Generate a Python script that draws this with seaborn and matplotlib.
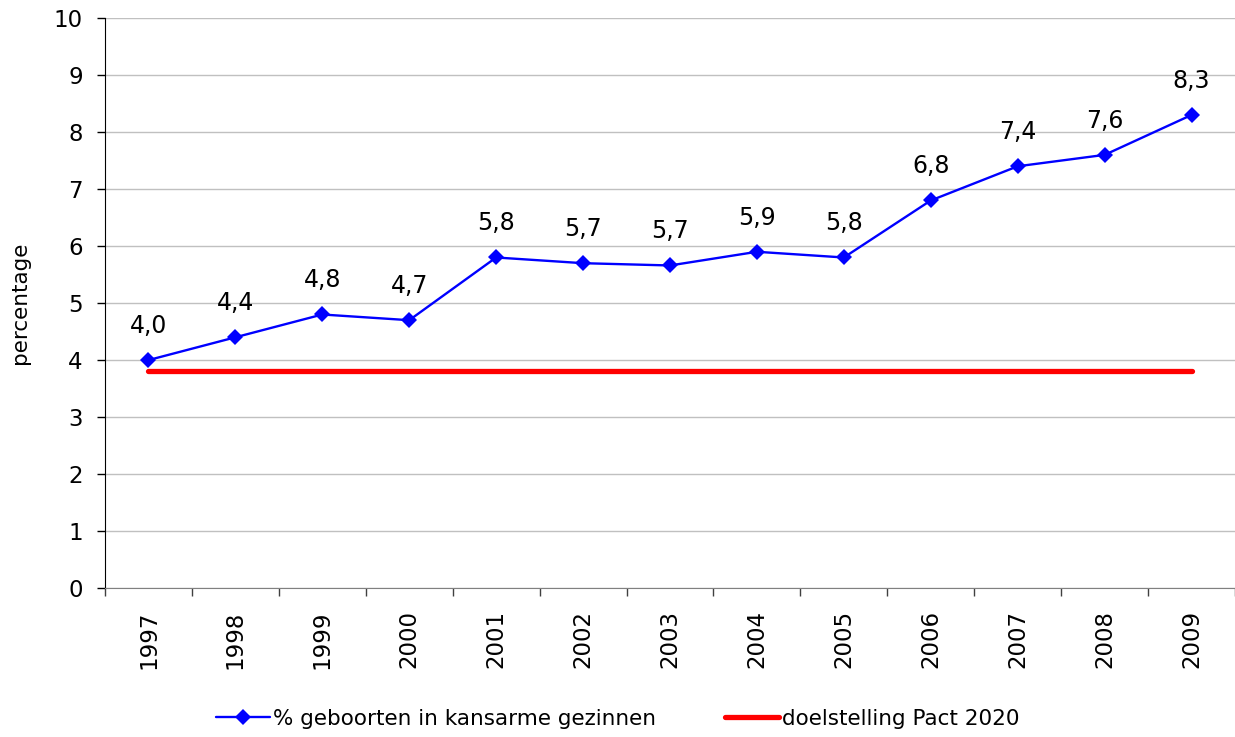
import matplotlib
matplotlib.use("Agg")
import matplotlib.pyplot as plt
import seaborn as sns
import pandas as pd
from matplotlib.ticker import FixedLocator

years = ['1997', '1998', '1999', '2000', '2001', '2002', '2003',
         '2004', '2005', '2006', '2007', '2008', '2009']
percent = [4.0, 4.4, 4.8, 4.7, 5.8, 5.7, 5.66, 5.9, 5.8, 6.8, 7.4, 7.6, 8.3]
point_labels = ['4,0', '4,4', '4,8', '4,7', '5,8', '5,7', '5,7',
                '5,9', '5,8', '6,8', '7,4', '7,6', '8,3']
target_value = 3.8
target = [target_value] * len(years)

df = pd.DataFrame({'year': years, 'percent': percent, 'target': target})

sns.set_style("white")
plt.rcParams['font.family'] = ['DejaVu Sans']
plt.rcParams['text.color'] = 'black'
plt.rcParams['xtick.color'] = 'black'
plt.rcParams['ytick.color'] = 'black'
plt.rcParams['axes.labelcolor'] = 'black'

fig = plt.figure(figsize=(12.35, 7.37), dpi=100)
ax = fig.add_axes([0.085, 0.202, 0.915, 0.7735])

sns.lineplot(data=df, x='year', y='target', ax=ax, color='#ff0000',
             linewidth=3.8, solid_capstyle='round',
             label='doelstelling Pact 2020', zorder=2)
sns.lineplot(data=df, x='year', y='percent', ax=ax, color='#0000ff',
             linewidth=1.7, marker='D', markersize=8, markeredgewidth=0,
             label='% geboorten in kansarme gezinnen', zorder=3)

for i, (v, t) in enumerate(zip(percent, point_labels)):
    ax.annotate(t, (i, v), xytext=(0, 16), textcoords='offset points',
                ha='center', va='bottom', fontsize=17, color='black')

ax.set_xlim(-0.5, len(years) - 0.5)
ax.set_ylim(0, 10)
ax.set_yticks(range(0, 11))
ax.grid(axis='y', color='#c0c0c0', linewidth=1)
ax.set_axisbelow(True)

ax.set_xlabel('')
ax.set_ylabel('percentage', fontsize=15.5, labelpad=17)
ax.tick_params(axis='y', labelsize=16.5, length=6, width=1, direction='out',
               left=True, pad=10)
ax.tick_params(axis='x', which='major', labelsize=16.5, length=0, rotation=90, pad=16)
ax.xaxis.set_minor_locator(FixedLocator([i - 0.5 for i in range(len(years) + 1)]))
ax.tick_params(axis='x', which='minor', length=6, width=1, direction='out',
               bottom=True, color='#404040')

for side in ['top', 'right']:
    ax.spines[side].set_visible(False)
ax.spines['left'].set_color('black')
ax.spines['bottom'].set_color('#808080')

handles, labels = ax.get_legend_handles_labels()
ax.get_legend().remove()
fig.legend(handles[::-1], labels[::-1], loc='lower center',
           bbox_to_anchor=(0.5, -0.015), ncol=2, frameon=False, fontsize=15.5,
           columnspacing=3.2, handlelength=2.5, handletextpad=0.15)

fig.savefig('out.png', dpi=100)
